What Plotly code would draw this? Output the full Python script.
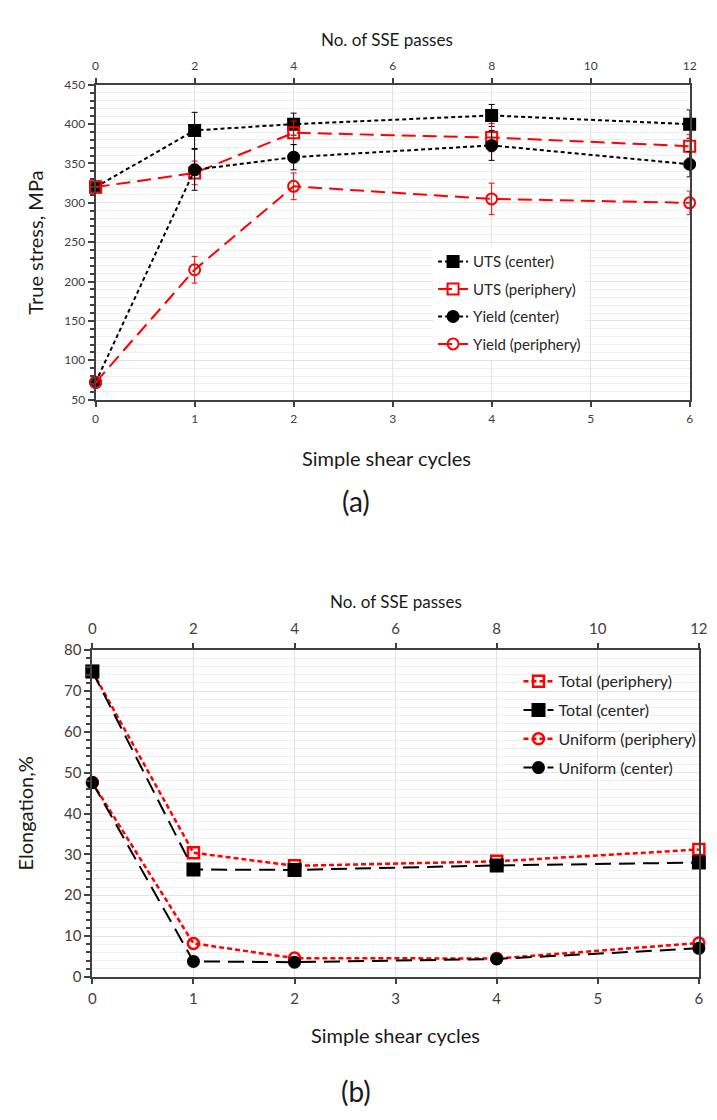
import plotly.graph_objects as go

W, H = 717, 1120
cycles = [0, 1, 2, 4, 6]

# (a) true stress, MPa
uts_center = [320, 392, 400, 411, 400]
uts_center_err = [0, 23, 14, 14, 18]
uts_periph = [320, 338, 389, 383, 372]
uts_periph_err = [0, 15, 15, 18, 15]
yield_center = [72, 342, 358, 373, 349]
yield_center_err = [0, 26, 16, 19, 16]
yield_periph = [72, 215, 321, 305, 300]
yield_periph_err = [0, 17, 17, 20, 15]

# (b) elongation, %
total_periph = [74.8, 30.4, 27.2, 28.3, 31.2]
total_center = [74.8, 26.3, 26.2, 27.3, 28.0]
unif_periph = [47.6, 8.2, 4.6, 4.5, 8.3]
unif_center = [47.6, 3.8, 3.6, 4.4, 7.0]

top_ticks = [0, 2, 4, 6, 8, 10, 12]

FONT = "Lato"
AX = "#404040"
LBL = "#404040"
GRID = "#e3e3e3"

def px_x(p):
    return p / W

def px_y(p):
    return 1 - p / H

fig = go.Figure()

def add(x, y, err, name, color, dash, symbol, size, xa, ya, width=2, lw=2, legend="legend"):
    fig.add_trace(go.Scatter(
        x=x, y=y, name=name, mode="lines+markers", xaxis=xa, yaxis=ya,
        line=dict(color=color, dash=dash, width=lw),
        marker=dict(symbol=symbol, size=size, color=color,
                    line=dict(color=color, width=width)),
        error_y=dict(type="data", array=err, visible=True,
                     color=color, thickness=1, width=3) if err is not None else None,
        cliponaxis=False, legend=legend, legendgroup=name,
    ))

add(cycles, uts_center, uts_center_err, "UTS (center)", "#000000", "4px,3px", "square", 11, "x", "y")
add(cycles, uts_periph, uts_periph_err, "UTS (periphery)", "#ff0000", "14px,7px", "square-open", 11, "x", "y")
add(cycles, yield_center, yield_center_err, "Yield (center)", "#000000", "4px,3px", "circle", 11, "x", "y")
add(cycles, yield_periph, yield_periph_err, "Yield (periphery)", "#ff0000", "14px,7px", "circle-open", 11, "x", "y")

add(cycles, total_periph, None, "Total (periphery)", "#ff0000", "5px,3px", "square-open", 11, "x3", "y2", width=2.5, lw=2.5, legend="legend2")
add(cycles, total_center, None, "Total (center)", "#000000", "16px,8px", "square", 12, "x3", "y2", legend="legend2")
add(cycles, unif_periph, None, "Uniform (periphery)", "#ff0000", "5px,3px", "circle-open", 11, "x3", "y2", width=2.5, lw=2.5, legend="legend2")
add(cycles, unif_center, None, "Uniform (center)", "#000000", "16px,8px", "circle", 11, "x3", "y2", legend="legend2")

# invisible traces to activate the top (SSE passes) axes
fig.add_trace(go.Scatter(x=top_ticks, y=[None] * len(top_ticks), xaxis="x2", yaxis="y",
                         showlegend=False, hoverinfo="skip"))
fig.add_trace(go.Scatter(x=top_ticks, y=[None] * len(top_ticks), xaxis="x4", yaxis="y2",
                         showlegend=False, hoverinfo="skip"))

xd1 = [px_x(93.3), px_x(698.3)]
yd1 = [px_y(396), px_y(76)]
xd2 = [px_x(90), px_x(707.7)]
yd2 = [px_y(982.7), px_y(650.7)]

def xax(domain, anchor, size, **kw):
    return dict(domain=domain, anchor=anchor, range=[0, 6], dtick=1, showgrid=True,
                gridcolor=GRID, gridwidth=1, showline=True, linecolor=AX, linewidth=2,
                ticks="outside", ticklen=5, tickwidth=2, tickcolor=AX, ticklabelstandoff=2,
                tickfont=dict(family=FONT, size=size, color=LBL), zeroline=False, **kw)

def topax(over, anchor, size):
    return dict(overlaying=over, anchor=anchor, side="top", range=[0, 12], tickvals=top_ticks,
                showgrid=False, showline=True, linecolor=AX, linewidth=2,
                ticks="outside", ticklen=5, tickwidth=2, tickcolor=AX, ticklabelstandoff=3,
                tickfont=dict(family=FONT, size=size, color=LBL), zeroline=False)

def yax(domain, anchor, rng, dtick, minor, size):
    return dict(domain=domain, anchor=anchor, range=rng, dtick=dtick, showgrid=True,
                gridcolor=GRID, gridwidth=1, showline=True, linecolor=AX, linewidth=2,
                mirror=True, ticks="outside", ticklen=6, tickwidth=2, tickcolor=AX,
                minor=dict(dtick=minor, showgrid=True, gridcolor="#efefef", ticks="outside",
                           ticklen=4, tickwidth=1.5, tickcolor=AX),
                tickfont=dict(family=FONT, size=size, color=LBL), zeroline=False)

fig.update_layout(
    width=W, height=H, margin=dict(l=0, r=0, t=0, b=0),
    paper_bgcolor="white", plot_bgcolor="white", showlegend=True,
    xaxis=xax(xd1, "y", 12),
    xaxis2=topax("x", "y", 12),
    yaxis=yax(yd1, "x", [50, 450], 50, 10, 12),
    xaxis3=xax(xd2, "y2", 15),
    xaxis4=topax("x3", "y2", 15),
    yaxis2=yax(yd2, "x3", [0, 80], 10, 2, 15),
    legend=dict(x=px_x(437), y=px_y(239), xanchor="left", yanchor="top",
                bgcolor="white", borderwidth=0, font=dict(family=FONT, size=15, color="#262626"),
                tracegroupgap=5, itemwidth=30),
    legend2=dict(x=px_x(524), y=px_y(665), xanchor="left", yanchor="top",
                 bgcolor="rgba(0,0,0,0)", borderwidth=0, font=dict(family=FONT, size=16, color="#262626"),
                 tracegroupgap=5, itemwidth=30),
)

def ann(text, x, y, size, angle=0):
    fig.add_annotation(text=text, x=px_x(x), y=px_y(y), xref="paper", yref="paper",
                       showarrow=False, textangle=angle, xanchor="center", yanchor="middle",
                       font=dict(family=FONT, size=size, color="#1a1a1a"))

ann("No. of SSE passes", 390, 30, 17)
ann("Simple shear cycles", 390, 455, 20)
ann("(a)", 358, 499, 28)
ann("True stress, MPa", 32, 236, 20, -90)

ann("No. of SSE passes", 399, 601, 17)
ann("Elongation,%", 21, 817, 20, -90)
ann("Simple shear cycles", 399, 1042, 20)
ann("(b)", 358, 1099, 28)

fig.write_html("out.html")
